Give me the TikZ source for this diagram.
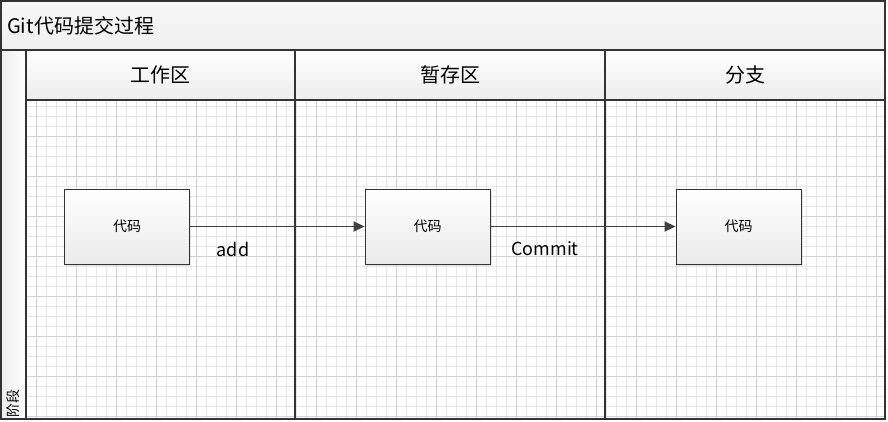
\documentclass[tikz,border=0pt]{standalone}
\usepackage{fontspec}
\setmainfont{Noto Sans CJK SC}
\usetikzlibrary{arrows.meta,shadows}
\definecolor{frame}{HTML}{333333}
\definecolor{gridminor}{HTML}{E6E6E6}
\definecolor{gridmajor}{HTML}{D2D2D2}
\definecolor{arrowc}{HTML}{404040}
\tikzset{
  lane/.style={draw=frame, line width=1.2pt},
  codebox/.style={draw=frame, line width=0.9pt, top color=white, bottom color=black!8,
    minimum width=125pt, minimum height=75pt, inner sep=0pt, font=\fontsize{14}{16}\selectfont,
    drop shadow={shadow xshift=1.5pt, shadow yshift=-1.5pt, opacity=0.25, fill=black!40}},
  flow/.style={draw=arrowc, line width=1.8pt, -{Triangle[length=11pt,width=10pt]}},
  headtxt/.style={font=\fontsize{20}{23}\selectfont},
  edgelbl/.style={font=\fontsize{18}{21}\selectfont}
}
\begin{document}
\begin{tikzpicture}[x=1pt,y=-1pt]
\useasboundingbox (0,0) rectangle (888,421);
\fill[white] (0,0) rectangle (888,421);
% grid
\begin{scope}
\clip (26,100) rectangle (885,419);
\foreach \gx in {6.5,16.5,...,886} {\draw[gridminor, line width=0.8pt] (\gx,100) -- (\gx,419);}
\foreach \gy in {106.5,116.5,...,420} {\draw[gridminor, line width=0.8pt] (26,\gy) -- (885,\gy);}
\foreach \gx in {36.5,76.5,...,886} {\draw[gridmajor, line width=0.8pt] (\gx,100) -- (\gx,419);}
\foreach \gy in {136.5,176.5,...,420} {\draw[gridmajor, line width=0.8pt] (26,\gy) -- (885,\gy);}
\end{scope}
% title band
\shade[top color=black!3, bottom color=black!6] (1,1) rectangle (885,50);
% header cells
\shade[top color=white, bottom color=black!7] (26,50) rectangle (885,100);
% left column
\shade[left color=black!7, right color=white] (1,50) rectangle (26,419);
% lines
\draw[lane] (1,1) rectangle (885,419);
\draw[lane] (1,50) -- (885,50);
\draw[lane] (26,50) -- (26,419);
\draw[lane] (26,100) -- (885,100);
\draw[lane] (295,50) -- (295,419);
\draw[lane] (605,50) -- (605,419);
% texts
\node[headtxt, anchor=west, inner sep=0pt] (title) at (7,26) {Git代码提交过程};
\node[headtxt] (h1) at (160,75) {工作区};
\node[headtxt] (h2) at (450,75) {暂存区};
\node[headtxt] (h3) at (745,75) {分支};
\node[font=\fontsize{14}{16}\selectfont, rotate=90] (stage) at (13,403) {阶段};
% boxes
\node[codebox] (c1) at (127,226.5) {代码};
\node[codebox] (c2) at (427.5,226.5) {代码};
\node[codebox] (c3) at (738.5,226.5) {代码};
\draw[flow] (c1.east) -- (c2.west);
\draw[flow] (c2.east) -- (c3.west);
\node[edgelbl] (l1) at (233,249) {add};
\node[edgelbl] (l2) at (545,249) {Commit};
\end{tikzpicture}
\end{document}
